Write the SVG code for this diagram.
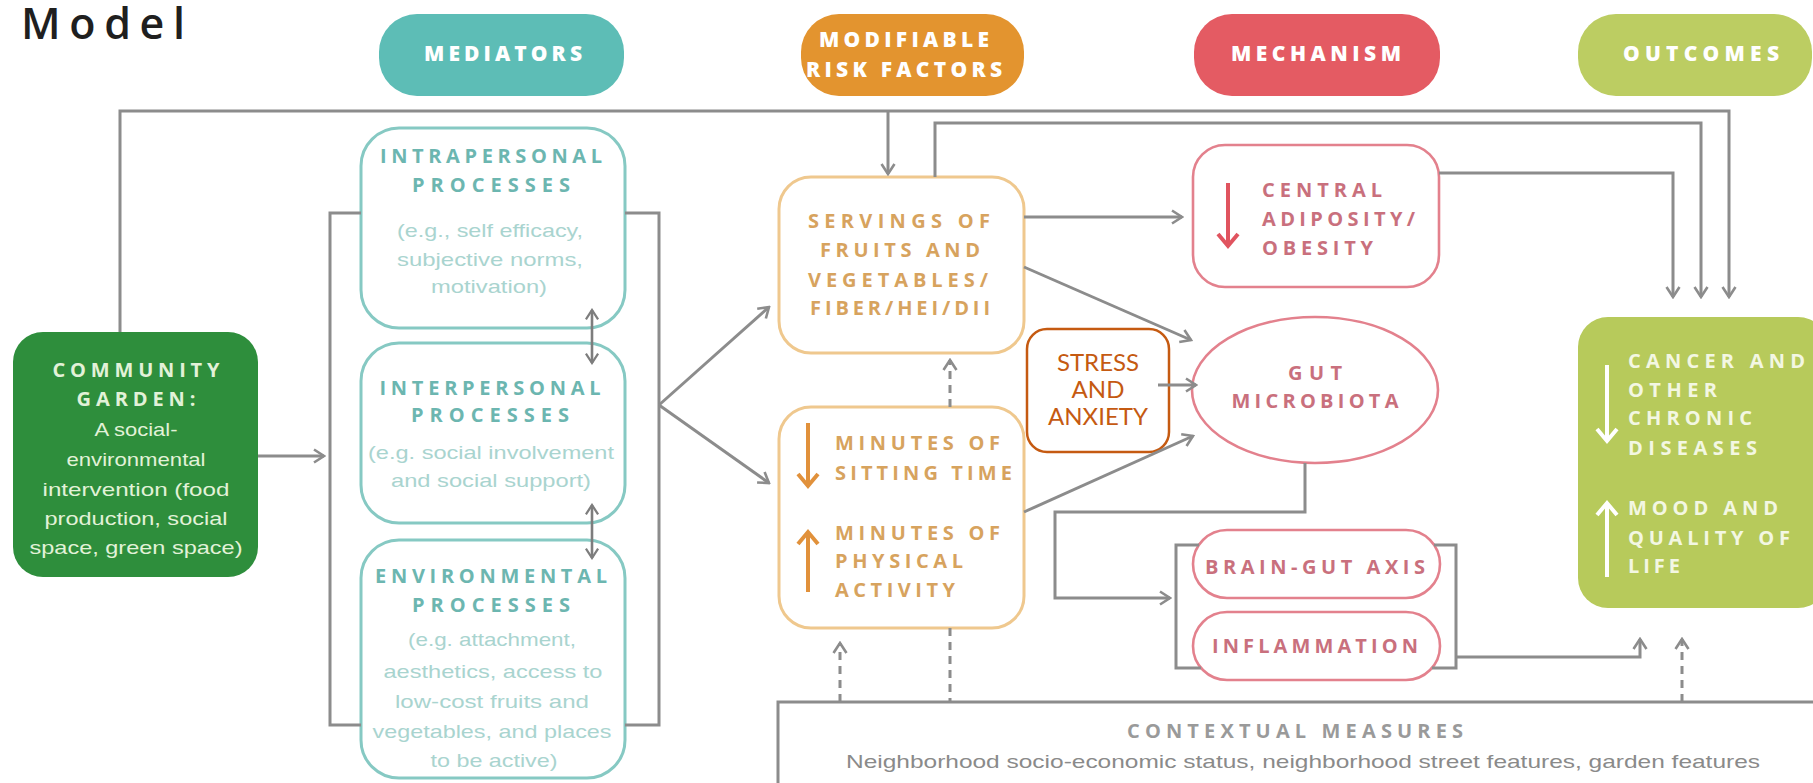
<svg xmlns="http://www.w3.org/2000/svg" width="1813" height="783" viewBox="0 0 1813 783">
  <defs>
    <marker id="ah" viewBox="0 0 16 16" refX="14" refY="8" markerWidth="16" markerHeight="16" markerUnits="userSpaceOnUse" orient="auto-start-reverse">
      <path d="M4,1.5 L14,8 L4,14.5" fill="none" stroke="#8c8c8c" stroke-width="2.6"/>
    </marker>
    <marker id="ahd" viewBox="0 0 16 16" refX="14" refY="8" markerWidth="15" markerHeight="15" markerUnits="userSpaceOnUse" orient="auto-start-reverse">
      <path d="M4,1.5 L14,8 L4,14.5" fill="none" stroke="#7d7d7d" stroke-width="2.4"/>
    </marker>
    <style>
      .ln { fill: none; stroke: #8c8c8c; stroke-width: 3; }
      .dash { stroke-dasharray: 8 6; }
      .arr { marker-end: url(#ah); }
      .dbl { fill: none; stroke: #7d7d7d; stroke-width: 2.6; marker-start: url(#ahd); marker-end: url(#ahd); }
      .hdr { font-family: "Open Sans", "DejaVu Sans", sans-serif; font-weight: 800; font-size: 21px; fill: #ffffff; text-anchor: middle; }
      .cap { font-family: "Open Sans", "DejaVu Sans", sans-serif; font-weight: 700; font-size: 20px; }
      .mid { text-anchor: middle; }
      .body { font-family: "Liberation Sans", Arial, sans-serif; font-size: 19px; }
      .teal-box { fill: #ffffff; stroke: #86c9c3; stroke-width: 3; }
      .teal-h { fill: #6cb6b0; }
      .teal-b { fill: #a9d4cf; }
      .org-box { fill: #ffffff; stroke: #efc88e; stroke-width: 3; }
      .org-t { fill: #d7a35e; }
      .red-box { fill: #ffffff; stroke: #e3818d; stroke-width: 2.6; }
      .red-t { fill: #c9707d; }
      .grn-t { fill: #e2f2d8; }
      .olv-t { fill: #f3f7e2; }
      .inner-arrow { fill: none; stroke-width: 4; stroke-linecap: butt; }
      .stress-t { font-family: Lato, "Open Sans", sans-serif; font-size: 24px; fill: #c55a11; text-anchor: middle; }
    </style>
  </defs>

  <rect width="1813" height="783" fill="#ffffff"/>

  <!-- title -->
  <text x="21" y="39" font-family="Open Sans, DejaVu Sans, sans-serif" font-weight="600" font-size="43" fill="#1f1f1f" textLength="164" lengthAdjust="spacing">Model</text>

  <!-- column headers -->
  <g id="hdr-mediators">
    <rect x="379" y="14" width="245" height="82" rx="38" fill="#5dbdb6"/>
    <text class="hdr" x="503" y="61" textLength="158" lengthAdjust="spacing">MEDIATORS</text>
  </g>
  <g id="hdr-risk">
    <rect x="801" y="14" width="223" height="82" rx="38" fill="#e3942f"/>
    <text class="hdr" x="904" y="47" textLength="170" lengthAdjust="spacing">MODIFIABLE</text>
    <text class="hdr" x="904" y="77" textLength="196" lengthAdjust="spacing">RISK FACTORS</text>
  </g>
  <g id="hdr-mechanism">
    <rect x="1194" y="14" width="246" height="82" rx="38" fill="#e45b63"/>
    <text class="hdr" x="1316" y="61" textLength="170" lengthAdjust="spacing">MECHANISM</text>
  </g>
  <g id="hdr-outcomes">
    <rect x="1578" y="14" width="234" height="82" rx="38" fill="#bccd62"/>
    <text class="hdr" x="1701" y="61" textLength="156" lengthAdjust="spacing">OUTCOMES</text>
  </g>

  <!-- community garden -->
  <g id="garden">
    <rect x="13" y="332" width="245" height="245" rx="30" fill="#2e8e3c"/>
    <text class="cap mid grn-t" x="136" y="377" textLength="167" lengthAdjust="spacing">COMMUNITY</text>
    <text class="cap mid grn-t" x="136" y="406" textLength="119" lengthAdjust="spacing">GARDEN:</text>
    <text class="body mid grn-t" x="136" y="436" textLength="83" lengthAdjust="spacingAndGlyphs">A social-</text>
    <text class="body mid grn-t" x="136" y="466" textLength="139" lengthAdjust="spacingAndGlyphs">environmental</text>
    <text class="body mid grn-t" x="136" y="496" textLength="187" lengthAdjust="spacingAndGlyphs">intervention (food</text>
    <text class="body mid grn-t" x="136" y="525" textLength="183" lengthAdjust="spacingAndGlyphs">production, social</text>
    <text class="body mid grn-t" x="136" y="554" textLength="213" lengthAdjust="spacingAndGlyphs">space, green space)</text>
  </g>

  <!-- mediators -->
  <g id="intrapersonal">
    <rect class="teal-box" x="361" y="128" width="264" height="200" rx="38"/>
    <text class="cap mid teal-h" x="491" y="163" font-size="19" textLength="222" lengthAdjust="spacing">INTRAPERSONAL</text>
    <text class="cap mid teal-h" x="491" y="192" font-size="19" textLength="158" lengthAdjust="spacing">PROCESSES</text>
    <text class="body mid teal-b" x="490" y="237" textLength="186" lengthAdjust="spacingAndGlyphs">(e.g., self efficacy,</text>
    <text class="body mid teal-b" x="490" y="266" textLength="186" lengthAdjust="spacingAndGlyphs">subjective norms,</text>
    <text class="body mid teal-b" x="489" y="293" textLength="116" lengthAdjust="spacingAndGlyphs">motivation)</text>
  </g>
  <g id="interpersonal">
    <rect class="teal-box" x="361" y="343" width="264" height="180" rx="38"/>
    <text class="cap mid teal-h" x="490" y="395" font-size="19" textLength="221" lengthAdjust="spacing">INTERPERSONAL</text>
    <text class="cap mid teal-h" x="490" y="422" font-size="19" textLength="158" lengthAdjust="spacing">PROCESSES</text>
    <text class="body mid teal-b" x="491" y="459" textLength="246" lengthAdjust="spacingAndGlyphs">(e.g. social involvement</text>
    <text class="body mid teal-b" x="491" y="487" textLength="200" lengthAdjust="spacingAndGlyphs">and social support)</text>
  </g>
  <g id="environmental">
    <rect class="teal-box" x="361" y="540" width="264" height="238" rx="38"/>
    <text class="cap mid teal-h" x="491" y="583" font-size="19" textLength="232" lengthAdjust="spacing">ENVIRONMENTAL</text>
    <text class="cap mid teal-h" x="491" y="612" font-size="19" textLength="158" lengthAdjust="spacing">PROCESSES</text>
    <text class="body mid teal-b" x="492" y="646" textLength="168" lengthAdjust="spacingAndGlyphs">(e.g. attachment,</text>
    <text class="body mid teal-b" x="493" y="678" textLength="219" lengthAdjust="spacingAndGlyphs">aesthetics, access to</text>
    <text class="body mid teal-b" x="492" y="708" textLength="194" lengthAdjust="spacingAndGlyphs">low-cost fruits and</text>
    <text class="body mid teal-b" x="492" y="738" textLength="239" lengthAdjust="spacingAndGlyphs">vegetables, and places</text>
    <text class="body mid teal-b" x="494" y="767" textLength="127" lengthAdjust="spacingAndGlyphs">to be active)</text>
  </g>

  <!-- modifiable risk factors -->
  <g id="servings">
    <rect class="org-box" x="779" y="177" width="245" height="176" rx="32"/>
    <text class="cap mid org-t" x="899" y="228" textLength="182" lengthAdjust="spacing">SERVINGS OF</text>
    <text class="cap mid org-t" x="900" y="257" textLength="160" lengthAdjust="spacing">FRUITS AND</text>
    <text class="cap mid org-t" x="898" y="287" textLength="180" lengthAdjust="spacing">VEGETABLES/</text>
    <text class="cap mid org-t" x="900" y="315" textLength="180" lengthAdjust="spacing">FIBER/HEI/DII</text>
  </g>
  <g id="activity">
    <rect class="org-box" x="779" y="407" width="245" height="221" rx="32"/>
    <path class="inner-arrow" stroke="#e1913b" d="M808,423 V485 M798,474 L808,486 L818,474"/>
    <path class="inner-arrow" stroke="#e1913b" d="M808,592 V533 M798,544 L808,532 L818,544"/>
    <text class="cap org-t" x="835" y="450" textLength="165" lengthAdjust="spacing">MINUTES OF</text>
    <text class="cap org-t" x="835" y="480" textLength="177" lengthAdjust="spacing">SITTING TIME</text>
    <text class="cap org-t" x="835" y="540" textLength="165" lengthAdjust="spacing">MINUTES OF</text>
    <text class="cap org-t" x="835" y="568" textLength="128" lengthAdjust="spacing">PHYSICAL</text>
    <text class="cap org-t" x="835" y="597" textLength="120" lengthAdjust="spacing">ACTIVITY</text>
  </g>

  <!-- stress -->
  <g id="stress">
    <rect x="1027" y="329" width="142" height="123" rx="20" fill="#ffffff" stroke="#c55a11" stroke-width="2.5"/>
    <text class="stress-t" x="1098" y="371">STRESS</text>
    <text class="stress-t" x="1098" y="398">AND</text>
    <text class="stress-t" x="1098" y="425">ANXIETY</text>
  </g>

  <!-- mechanism -->
  <g id="adiposity">
    <rect class="red-box" x="1193" y="145" width="246" height="142" rx="32"/>
    <path class="inner-arrow" stroke="#e0545f" d="M1228,183 V245 M1218,234 L1228,246 L1238,234"/>
    <text class="cap red-t" x="1262" y="197" textLength="120" lengthAdjust="spacing">CENTRAL</text>
    <text class="cap red-t" x="1262" y="226" textLength="153" lengthAdjust="spacing">ADIPOSITY/</text>
    <text class="cap red-t" x="1262" y="255" textLength="111" lengthAdjust="spacing">OBESITY</text>
  </g>
  <g id="microbiota">
    <ellipse class="red-box" cx="1315" cy="390" rx="123" ry="73"/>
    <text class="cap mid red-t" x="1315" y="380" textLength="54" lengthAdjust="spacing">GUT</text>
    <text class="cap mid red-t" x="1315" y="408" textLength="167" lengthAdjust="spacing">MICROBIOTA</text>
  </g>
  <g id="brain-gut">
    <rect class="red-box" x="1193" y="530" width="247" height="68" rx="34"/>
    <text class="cap mid red-t" x="1315" y="574" textLength="220" lengthAdjust="spacing">BRAIN-GUT AXIS</text>
  </g>
  <g id="inflammation">
    <rect class="red-box" x="1193" y="612" width="247" height="68" rx="34"/>
    <text class="cap mid red-t" x="1315" y="653" textLength="206" lengthAdjust="spacing">INFLAMMATION</text>
  </g>

  <!-- outcomes -->
  <g id="outcomes">
    <rect x="1578" y="317" width="250" height="291" rx="30" fill="#b7ca5b"/>
    <path class="inner-arrow" stroke="#ffffff" d="M1607,365 V440 M1597,429 L1607,441 L1617,429"/>
    <path class="inner-arrow" stroke="#ffffff" d="M1607,577 V504 M1597,515 L1607,503 L1617,515"/>
    <text class="cap olv-t" x="1628" y="368" textLength="177" lengthAdjust="spacing">CANCER AND</text>
    <text class="cap olv-t" x="1628" y="397" textLength="89" lengthAdjust="spacing">OTHER</text>
    <text class="cap olv-t" x="1628" y="425" textLength="124" lengthAdjust="spacing">CHRONIC</text>
    <text class="cap olv-t" x="1628" y="455" textLength="129" lengthAdjust="spacing">DISEASES</text>
    <text class="cap olv-t" x="1628" y="515" textLength="150" lengthAdjust="spacing">MOOD AND</text>
    <text class="cap olv-t" x="1628" y="545" textLength="162" lengthAdjust="spacing">QUALITY OF</text>
    <text class="cap olv-t" x="1628" y="573" textLength="52" lengthAdjust="spacing">LIFE</text>
  </g>

  <!-- contextual measures -->
  <g id="contextual">
    <rect x="778" y="702" width="1100" height="200" fill="#ffffff" stroke="#8c8c8c" stroke-width="3"/>
    <text class="cap mid" x="1295" y="738" fill="#9a9a9a" textLength="336" lengthAdjust="spacing">CONTEXTUAL MEASURES</text>
    <text class="body mid" x="1303" y="768" fill="#8a8a8a" textLength="914" lengthAdjust="spacingAndGlyphs">Neighborhood socio-economic status, neighborhood street features, garden features</text>
  </g>

  <!-- connectors -->
  <g id="connectors">
    <!-- garden to outcomes along the top, with a drop into servings -->
    <path class="ln arr" d="M120,332 V111 H1729 V297"/>
    <path class="ln arr" d="M888,111 V174"/>
    <!-- servings to outcomes -->
    <path class="ln arr" d="M935,177 V123 H1701 V297"/>
    <!-- adiposity to outcomes -->
    <path class="ln arr" d="M1439,173 H1673 V297"/>
    <!-- garden to mediators -->
    <path class="ln arr" d="M258,456 H324"/>
    <!-- mediator bracket -->
    <path class="ln" d="M361,213 H330 V725 H361"/>
    <path class="ln" d="M625,213 H659 V725 H625"/>
    <path class="ln arr" d="M659,405 L769,307"/>
    <path class="ln arr" d="M659,405 L769,483"/>
    <!-- between mediator processes -->
    <path class="dbl" d="M592,310 V363"/>
    <path class="dbl" d="M592,505 V558"/>
    <!-- risk factors to mechanism -->
    <path class="ln arr" d="M1024,217 H1182"/>
    <path class="ln arr" d="M1024,267 L1191,340"/>
    <path class="ln arr" d="M1024,512 L1193,436"/>
    <path class="ln arr" d="M1158,385 H1196"/>
    <!-- gut to brain-gut / inflammation -->
    <path class="ln arr" d="M1305,463 V512 H1055 V598 H1170"/>
    <path class="ln" d="M1199,545 H1176 V668 H1201"/>
    <path class="ln" d="M1434,545 H1456 V668 H1432"/>
    <path class="ln arr" d="M1456,657 H1640 V639"/>
    <!-- dashed influences -->
    <path class="ln dash arr" d="M950,407 V360"/>
    <path class="ln dash arr" d="M840,702 V643"/>
    <path class="ln dash" d="M950,628 V702"/>
    <path class="ln dash arr" d="M1682,702 V639"/>
  </g>
</svg>
